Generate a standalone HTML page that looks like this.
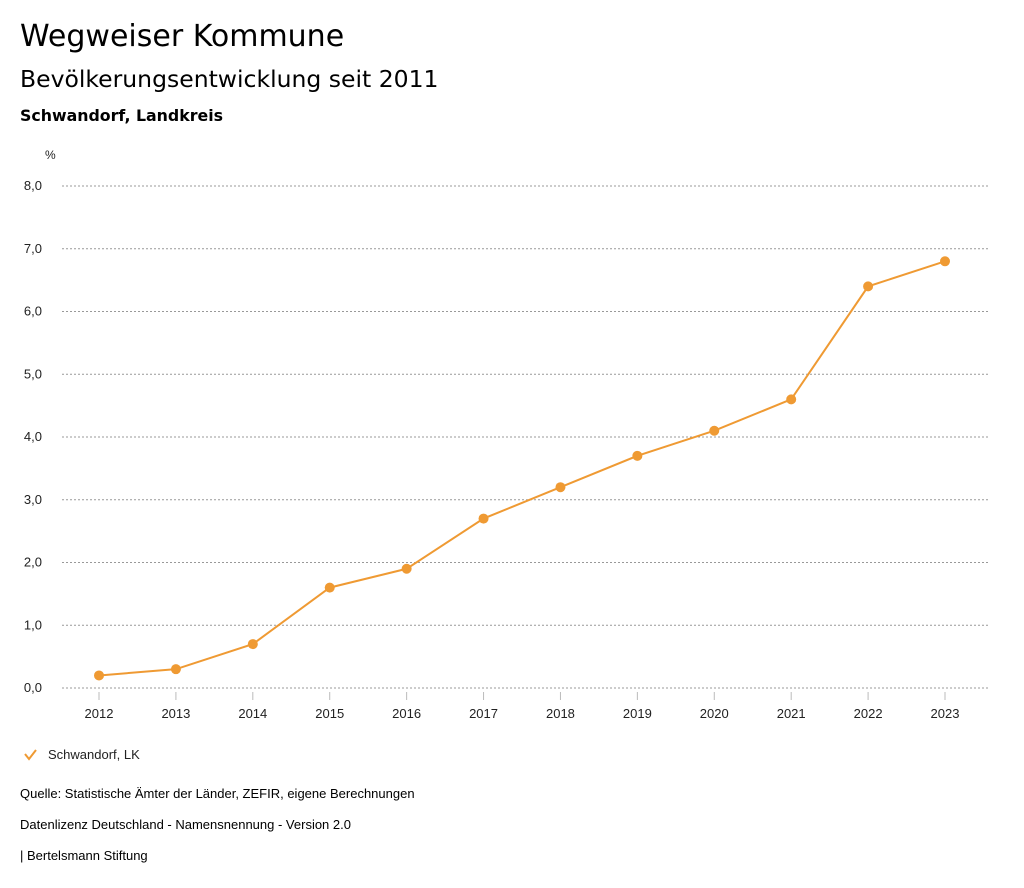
<!DOCTYPE html>
<html><head><meta charset="utf-8"><style>
body{margin:0;width:1024px;height:888px;background:#fff;font-family:"Liberation Sans","DejaVu Sans",sans-serif;color:#000;position:relative;overflow:hidden}
.t{position:absolute;left:20px;white-space:nowrap}
</style></head><body>
<div class="t" style="top:19px;font-size:30px;font-family:'DejaVu Sans',sans-serif">Wegweiser Kommune</div>
<div class="t" style="top:65px;font-size:23.5px;font-family:'DejaVu Sans',sans-serif">Bevölkerungsentwicklung seit 2011</div>
<div class="t" style="top:106px;font-size:15.8px;font-weight:bold;font-family:'DejaVu Sans',sans-serif">Schwandorf, Landkreis</div>
<svg id="c" width="1024" height="888" style="position:absolute;left:0;top:0" font-family="Liberation Sans, sans-serif" font-size="13"></svg>
<div class="t" style="top:786px;font-size:13px">Quelle: Statistische Ämter der Länder, ZEFIR, eigene Berechnungen</div>
<div class="t" style="top:817px;font-size:13px">Datenlizenz Deutschland - Namensnennung - Version 2.0</div>
<div class="t" style="top:848px;font-size:13px">| Bertelsmann Stiftung</div>
<script>
const years=[2012,2013,2014,2015,2016,2017,2018,2019,2020,2021,2022,2023];
const values=[0.2,0.3,0.7,1.6,1.9,2.7,3.2,3.7,4.1,4.6,6.4,6.8];
const yTicks=[0,1,2,3,4,5,6,7,8];
const svg=document.getElementById('c');const NS='http://www.w3.org/2000/svg';
const x=i=>99+i*(945-99)/(years.length-1);
const y=v=>688-v*(688-186)/8;
function el(t,a,p){const e=document.createElementNS(NS,t);for(const k in a)e.setAttribute(k,a[k]);(p||svg).appendChild(e);return e;}
let u=el('text',{x:45,y:159,fill:'#222','font-size':12});u.textContent='%';


yTicks.forEach(v=>{
 const g=el('line',{x1:62,x2:990,y1:y(v),y2:y(v),stroke:'#999','stroke-dasharray':'2,2','stroke-width':1});
 
 
 const t=el('text',{x:42,y:y(v)+4,'text-anchor':'end',fill:'#222'});t.textContent=v.toFixed(1).replace('.',',');
 
 
});
years.forEach((yr,i)=>{
 const l=el('line',{x1:x(i),x2:x(i),y1:692,y2:700,stroke:'#bbb'});
 
 
 const t=el('text',{x:x(i),y:718,'text-anchor':'middle',fill:'#222'});t.textContent=yr;
 
 
});
const p=el('polyline',{points:values.map((v,i)=>x(i)+','+y(v)).join(' '),fill:'none',stroke:'#ef9a33','stroke-width':2});


values.forEach((v,i)=>{
 const c=el('circle',{cx:x(i),cy:y(v),r:5,fill:'#ef9a33'});
 
 
});
const ck=el('polyline',{points:'25,754 29,759 36,750',fill:'none',stroke:'#ef9a33','stroke-width':2});


const lt=el('text',{x:48,y:759,fill:'#222'});lt.textContent='Schwandorf, LK';


</script>
</body></html>
